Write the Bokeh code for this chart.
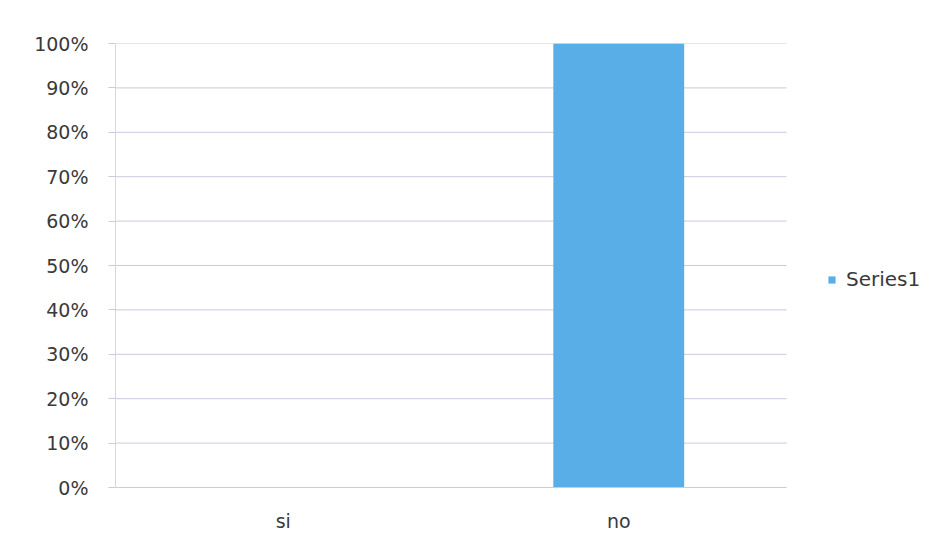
from bokeh.plotting import figure
from bokeh.models import ColumnDataSource, Range1d, FixedTicker, NumeralTickFormatter, Legend, LegendItem
from bokeh.embed import file_html
from bokeh.resources import INLINE

categories = ["si", "no"]
values = [0.0, 1.0]
series_name = "Series1"
y_ticks = [0.0, 0.1, 0.2, 0.3, 0.4, 0.5, 0.6, 0.7, 0.8, 0.9, 1.0]

n = len(categories)
xpos = [i + 0.5 for i in range(n)]
src = ColumnDataSource(dict(x=xpos, val=values))
grid_src = ColumnDataSource(dict(y=y_ticks, x0=[0] * len(y_ticks), x1=[n] * len(y_ticks)))

# plot area spans 671px of an 809px-wide frame; the rest holds the legend
x_end = n * 809 / 671

p = figure(x_range=Range1d(0, x_end), y_range=Range1d(0, 1), width=924, height=536,
           output_backend="svg", toolbar_location=None,
           min_border_left=115, min_border_right=0, min_border_top=43, min_border_bottom=49)
p.outline_line_color = None
p.background_fill_color = "white"
p.border_fill_color = "white"
p.xgrid.grid_line_color = None
p.ygrid.grid_line_color = None

p.segment(x0="x0", x1="x1", y0="y", y1="y", source=grid_src, line_color="#CACBDD", line_width=1)
r = p.vbar(x="x", top="val", width=0.39, source=src, fill_color="#5AAEE8", line_color=None)

p.yaxis.ticker = FixedTicker(ticks=y_ticks)
p.yaxis.formatter = NumeralTickFormatter(format="0%")
p.yaxis.axis_line_color = "#D8D8D8"
p.yaxis.major_tick_line_color = "#CACBDD"
p.yaxis.major_tick_out = 7
p.yaxis.major_tick_in = 0
p.yaxis.minor_tick_line_color = None
p.yaxis.major_label_text_font = "DejaVu Sans"
p.yaxis.major_label_text_font_size = "19px"
p.yaxis.major_label_text_color = "#3A3A3A"
p.yaxis.major_label_standoff = 20

p.xaxis.ticker = FixedTicker(ticks=xpos)
p.xaxis.major_label_overrides = {x: c for x, c in zip(xpos, categories)}
p.xaxis.bounds = (0, n)
p.xaxis.axis_line_color = "#CACBDD"
p.xaxis.major_tick_line_color = None
p.xaxis.minor_tick_line_color = None
p.xaxis.major_label_text_font = "DejaVu Sans"
p.xaxis.major_label_text_font_size = "19px"
p.xaxis.major_label_text_color = "#3A3A3A"
p.xaxis.major_label_standoff = 16

legend = Legend(items=[LegendItem(label=series_name, renderers=[r])],
                location=(712, 196), padding=0, margin=0, border_line_color=None,
                background_fill_alpha=0, glyph_width=9, glyph_height=9,
                label_text_font="DejaVu Sans", label_text_font_size="20px",
                label_text_color="#3A3A3A", label_standoff=10)
p.add_layout(legend, "center")

open("out.html", "w").write(file_html(p, INLINE))
